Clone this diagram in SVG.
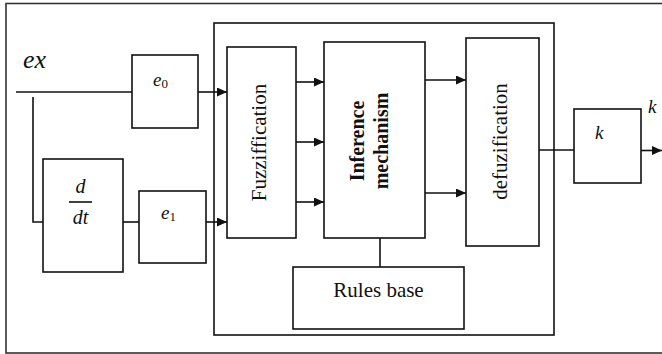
<svg xmlns="http://www.w3.org/2000/svg" width="662" height="354" viewBox="0 0 662 354">
<style>
.box{fill:#fff;stroke:#111;stroke-width:1.6}
.ln{fill:none;stroke:#111;stroke-width:1.6}
.t{font-family:"Liberation Serif",serif;fill:#111}
.i{font-style:italic}
</style>
<defs>
<marker id="ah" viewBox="0 0 10 10" refX="10" refY="5" markerWidth="10" markerHeight="9" markerUnits="userSpaceOnUse" orient="auto" preserveAspectRatio="none">
<path d="M0,0 L10,5 L0,10 z" fill="#111"/>
</marker>
</defs>
<rect x="6" y="3.5" width="680" height="349.5" fill="none" stroke="#333" stroke-width="1.6"/>
<g id="controller"><rect x="214" y="23" width="340" height="312" fill="none" stroke="#111" stroke-width="1.6"/></g>
<text class="t i" x="23" y="68" font-size="26">ex</text>
<g id="connectors">
<path class="ln" d="M16,92 H132"/>
<path class="ln" d="M198,92 H227" marker-end="url(#ah)"/>
<path class="ln" d="M33,97 V222 H43"/>
<path class="ln" d="M123,222 H139"/>
<path class="ln" d="M206,222 H227" marker-end="url(#ah)"/>
<path class="ln" d="M296,82 H324" marker-end="url(#ah)"/>
<path class="ln" d="M296,142 H324" marker-end="url(#ah)"/>
<path class="ln" d="M296,202 H324" marker-end="url(#ah)"/>
<path class="ln" d="M425,80 H466" marker-end="url(#ah)"/>
<path class="ln" d="M425,193 H466" marker-end="url(#ah)"/>
<path class="ln" d="M539,150 H574"/>
<path class="ln" d="M641,150.5 H662" marker-end="url(#ah)"/>
<path class="ln" d="M380,238 V267"/>
</g>
<g id="e0">
<rect class="box" x="132" y="55" width="66" height="73"/>
<text class="t i" x="153" y="86" font-size="19">e<tspan font-style="normal" font-size="13" dy="2">0</tspan></text>
</g>
<g id="ddt">
<rect class="box" x="43" y="159" width="80" height="113"/>
<text class="t i" x="80.5" y="193" font-size="20" text-anchor="middle">d</text>
<path class="ln" d="M69,202 H92" stroke-width="1.2"/>
<text class="t i" x="80.5" y="224" font-size="20" text-anchor="middle">dt</text>
</g>
<g id="e1">
<rect class="box" x="139" y="191" width="67" height="72"/>
<text class="t i" x="161" y="219" font-size="19">e<tspan font-style="normal" font-size="13" dy="2">1</tspan></text>
</g>
<g id="fuzz">
<rect class="box" x="227" y="47" width="69" height="191"/>
<text class="t" transform="translate(266,142.5) rotate(-90)" font-size="21" text-anchor="middle">Fuzziffication</text>
</g>
<g id="inference">
<rect class="box" x="324" y="42" width="101" height="196"/>
<text class="t" transform="translate(364,141) rotate(-90)" font-size="20" font-weight="bold" text-anchor="middle">Inference</text>
<text class="t" transform="translate(388,141) rotate(-90)" font-size="20" font-weight="bold" text-anchor="middle">mechanism</text>
</g>
<g id="defuzz">
<rect class="box" x="466" y="38" width="73" height="208"/>
<text class="t" transform="translate(507,141.5) rotate(-90)" font-size="21" text-anchor="middle">defuzification</text>
</g>
<g id="rules">
<rect class="box" x="293" y="267" width="171" height="62"/>
<text class="t" x="378.5" y="297" font-size="21" text-anchor="middle">Rules base</text>
</g>
<g id="kbox">
<rect class="box" x="574" y="109" width="67" height="74"/>
<text class="t i" x="595" y="139" font-size="19">k</text>
</g>
<text class="t i" x="648" y="113" font-size="19">k</text>
</svg>
